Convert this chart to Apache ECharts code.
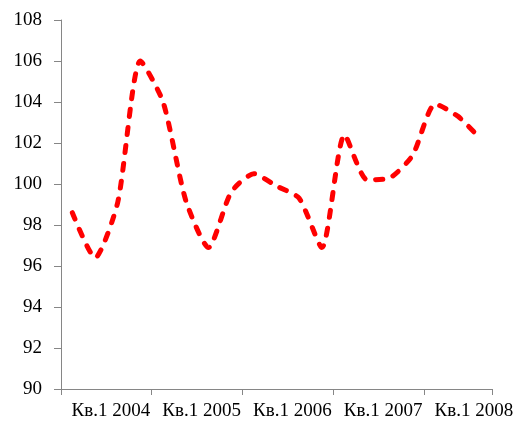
<!DOCTYPE html>
<html>
<head>
<meta charset="utf-8">
<script src="https://cdn.jsdelivr.net/npm/echarts@6/dist/echarts.min.js"></script>
<style>
  html, body { margin: 0; padding: 0; background: #fff; }
  #chart { width: 525px; height: 425px; }
</style>
</head>
<body>
<div id="chart"></div>
<script>
// Quarterly index, 2004 Q1 .. 2008 Q3
const quarters = [
  '2004 Q1', '2004 Q2', '2004 Q3', '2004 Q4',
  '2005 Q1', '2005 Q2', '2005 Q3', '2005 Q4',
  '2006 Q1', '2006 Q2', '2006 Q3', '2006 Q4',
  '2007 Q1', '2007 Q2', '2007 Q3', '2007 Q4',
  '2008 Q1', '2008 Q2', '2008 Q3'
];
const indexValues = [
  98.6, 96.4, 99.1, 106.0,
  104.0, 99.2, 96.9, 99.6,
  100.5, 99.9, 99.3, 96.9,
  102.4, 100.2, 100.3, 101.4,
  103.9, 103.3, 102.2
];
const yearLabels = ['Кв.1 2004', 'Кв.1 2005', 'Кв.1 2006', 'Кв.1 2007', 'Кв.1 2008'];

const QUARTERS_PER_YEAR = 4;
const LABEL_SHIFT = 2.2; // year label sits inside its group of four quarters
const labelSpots = yearLabels.map((_, i) => i * QUARTERS_PER_YEAR + LABEL_SHIFT);

const axisGray = '#868686';
const textFont = { fontFamily: 'Liberation Serif', fontSize: 19, color: '#000' };

const chart = echarts.init(document.getElementById('chart'), null, { renderer: 'canvas' });
chart.setOption({
  backgroundColor: '#fff',
  animation: false,
  grid: { left: 61, right: 33, top: 20, bottom: 36, containLabel: false },
  xAxis: [
    {
      type: 'category',
      data: quarters,
      boundaryGap: true,
      position: 'bottom',
      axisLine: { show: true, lineStyle: { color: axisGray, width: 1 } },
      axisTick: { show: true, interval: QUARTERS_PER_YEAR - 1, length: 6, lineStyle: { color: axisGray } },
      axisLabel: { show: false },
      splitLine: { show: false }
    },
    {
      type: 'value',
      min: 0,
      max: quarters.length,
      position: 'bottom',
      axisLine: { show: false },
      axisTick: { show: false },
      splitLine: { show: false },
      axisLabel: Object.assign({
        show: true,
        margin: 13,
        customValues: labelSpots,
        formatter: v => yearLabels[Math.round((v - LABEL_SHIFT) / QUARTERS_PER_YEAR)] || ''
      }, textFont)
    }
  ],
  yAxis: {
    type: 'value',
    min: 90,
    max: 108,
    interval: 2,
    axisLine: { show: true, lineStyle: { color: axisGray, width: 1 } },
    axisTick: { show: true, length: 7, lineStyle: { color: axisGray } },
    axisLabel: Object.assign({ margin: 19 }, textFont),
    splitLine: { show: false }
  },
  series: [{
    type: 'line',
    xAxisIndex: 0,
    data: indexValues,
    smooth: 0.22,
    symbol: 'none',
    lineStyle: { color: '#ff0000', width: 5, type: [7, 11], cap: 'round', join: 'round' }
  }]
});
</script>
</body>
</html>
